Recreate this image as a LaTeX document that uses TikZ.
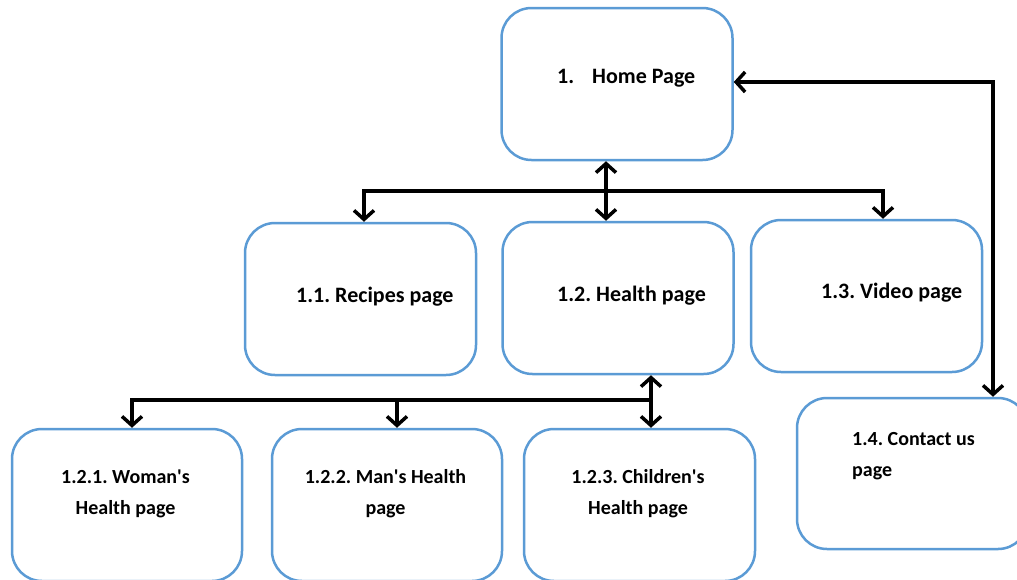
\documentclass[tikz,border=0pt]{standalone}
\usepackage{fontspec}
\setmainfont{Carlito}
\usetikzlibrary{arrows.meta}
\definecolor{boxblue}{RGB}{91,155,213}
\newcommand{\apos}{\textquotesingle}
\begin{document}
\frenchspacing
\begin{tikzpicture}[x=1pt,y=-1pt,
  pagebox/.style={draw=boxblue, line width=2.5pt, rounded corners=30pt,
    minimum width=231pt, minimum height=152pt, inner sep=0pt, fill=white},
  lbl/.style={font=\fontsize{22}{31}\selectfont\bfseries, inner sep=0pt},
  lbltwo/.style={font=\fontsize{20}{31}\selectfont\bfseries, inner sep=0pt},
  link/.style={line width=3.5pt, -{Straight Barb[length=9pt,width=20pt]}},
  biglink/.style={line width=3.5pt,
    {Straight Barb[length=9pt,width=20pt]}-{Straight Barb[length=9pt,width=20pt]}}
]
\useasboundingbox (0,0) rectangle (1017,579);
\clip (0,0) rectangle (1017,579);

% page boxes
\node[pagebox] (home)     at (617,84)    {};
\node[pagebox] (recipes)  at (360.5,299) {};
\node[pagebox] (health)   at (618,298)   {};
\node[pagebox] (video)    at (866.5,296) {};
\node[pagebox, minimum width=230pt] (woman) at (127,505) {};
\node[pagebox, minimum width=230pt] (man)   at (387,505) {};
\node[pagebox] (children) at (639.5,505) {};
\node[pagebox, minimum height=151pt] (contact) at (912.5,473.5) {};

% labels
\node[lbl, anchor=base west] (thome) at (557,83) {1.\hspace{18pt}Home Page};
\node[lbl, anchor=base west] (trecipes) at (296,302) {1.1. Recipes page};
\node[lbl, anchor=base west] (thealth) at (557,301) {1.2. Health page};
\node[lbl, anchor=base west] (tvideo) at (821,298) {1.3. Video page};
\node[lbltwo, align=center] (twoman) at (125.5,494) {1.2.1. Woman\apos s\\Health page};
\node[lbltwo, align=center] (tman) at (385.5,494) {1.2.2. Man\apos s Health\\page};
\node[lbltwo, align=center] (tchildren) at (638,494) {1.2.3. Children\apos s\\Health page};
\node[lbltwo, align=left, anchor=west] (tcontact) at (852,456) {1.4. Contact us\\page};

% junction points
\coordinate (hj) at (606,191);
\coordinate (rl) at (364,191);
\coordinate (rv) at (883,191);
\coordinate (cc) at (993,82);
\coordinate (lj) at (651,400);
\coordinate (lw) at (132,400);
\coordinate (lm) at (397,400);

% home page links
\draw[biglink] (hj |- home.south) -- (hj |- health.north);
\draw[link] (hj) -- (rl) -- (rl |- recipes.north);
\draw[link] (hj) -- (rv) -- (rv |- video.north);
\draw[biglink] (home.east |- cc) -- (cc) -- (cc |- contact.north);

% health page links
\draw[biglink] (lj |- health.south) -- (lj |- children.north);
\draw[link] (lj) -- (lw) -- (lw |- woman.north);
\draw[link] (lm |- lj) -- (lm |- man.north);
\end{tikzpicture}
\end{document}
